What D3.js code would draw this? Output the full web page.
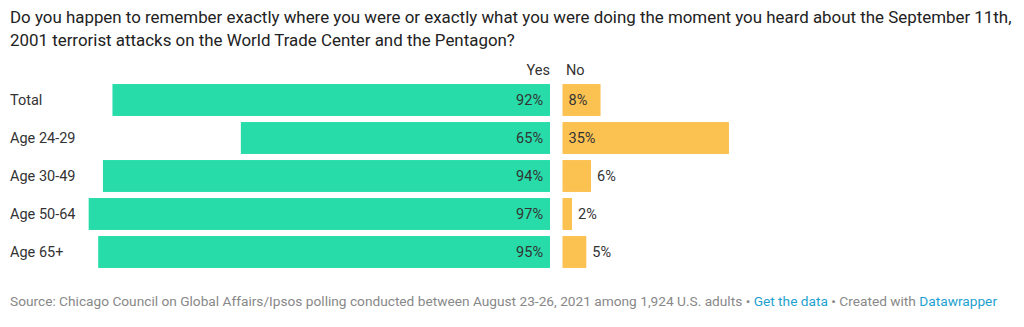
<!DOCTYPE html>
<html><head><meta charset="utf-8">
<script src="https://cdn.jsdelivr.net/npm/d3@7"></script>
<style>
body{margin:0;background:#fff;font-family:Roboto,"Noto Sans",sans-serif;}
svg{display:block}
</style></head><body>
<svg id="c" width="1024" height="327"></svg>
<script>
const categories = ["Total","Age 24-29","Age 30-49","Age 50-64","Age 65+"];
const yesValues = [92,65,94,97,95];
const noValues = [8,35,6,2,5];
const seriesNames = ["Yes","No"];
const titleLines = ["Do you happen to remember exactly where you were or exactly what you were doing the moment you heard about the September 11th,","2001 terrorist attacks on the World Trade Center and the Pentagon?"];

const svg = d3.select("#c");
const green = "#27dca9", orange = "#fbc252";
const fs = 14.5;

svg.append("text").attr("x",10).attr("y",23).attr("font-size",16.9).attr("fill","#222")
  .selectAll("tspan").data(titleLines).join("tspan")
  .attr("x",10).attr("dy",(d,i)=>i?22.5:0).text(d=>d);

const y = d3.scaleBand().domain(categories).range([81,271]).paddingInner(0.16).paddingOuter(0.08);
const yesX = d3.scaleLinear().domain([0,100]).range([550,550-475.6]);
const noX = d3.scaleLinear().domain([0,100]).range([562.5,562.5+475.6]);

svg.append("text").attr("x",550).attr("y",75).attr("text-anchor","end").attr("font-size",fs).attr("fill","#333").text(seriesNames[0]);
svg.append("text").attr("x",566).attr("y",75).attr("font-size",fs).attr("fill","#333").text(seriesNames[1]);

const rows = svg.selectAll("g.row").data(categories).join("g").attr("class","row");
rows.append("text").attr("x",10).attr("y",d=>y(d)+y.bandwidth()/2).attr("dy","0.35em")
  .attr("font-size",fs).attr("fill","#333").text(d=>d);

rows.append("rect").attr("x",(d,i)=>yesX(yesValues[i])).attr("y",d=>y(d))
  .attr("width",(d,i)=>yesX(0)-yesX(yesValues[i])).attr("height",y.bandwidth()).attr("fill",green);
rows.append("text").attr("x",yesX(0)-7).attr("y",d=>y(d)+y.bandwidth()/2).attr("dy","0.35em")
  .attr("text-anchor","end").attr("font-size",fs).attr("fill","#333").text((d,i)=>yesValues[i]+"%");

rows.append("rect").attr("x",noX(0)).attr("y",d=>y(d))
  .attr("width",(d,i)=>noX(noValues[i])-noX(0)).attr("height",y.bandwidth()).attr("fill",orange);
rows.append("text").attr("x",(d,i)=> noValues[i]>=8 ? noX(0)+6 : noX(noValues[i])+6)
  .attr("y",d=>y(d)+y.bandwidth()/2).attr("dy","0.35em")
  .attr("font-size",fs).attr("fill","#333").text((d,i)=>noValues[i]+"%");

const foot = svg.append("text").attr("x",10).attr("y",306).attr("font-size",13.7).attr("fill","#888");
foot.append("tspan").text("Source: Chicago Council on Global Affairs/Ipsos polling conducted between August 23-26, 2021 among 1,924 U.S. adults • ");
foot.append("tspan").attr("fill","#1da1d0").text("Get the data");
foot.append("tspan").text(" • Created with ");
foot.append("tspan").attr("fill","#1da1d0").text("Datawrapper");
</script></body></html>
